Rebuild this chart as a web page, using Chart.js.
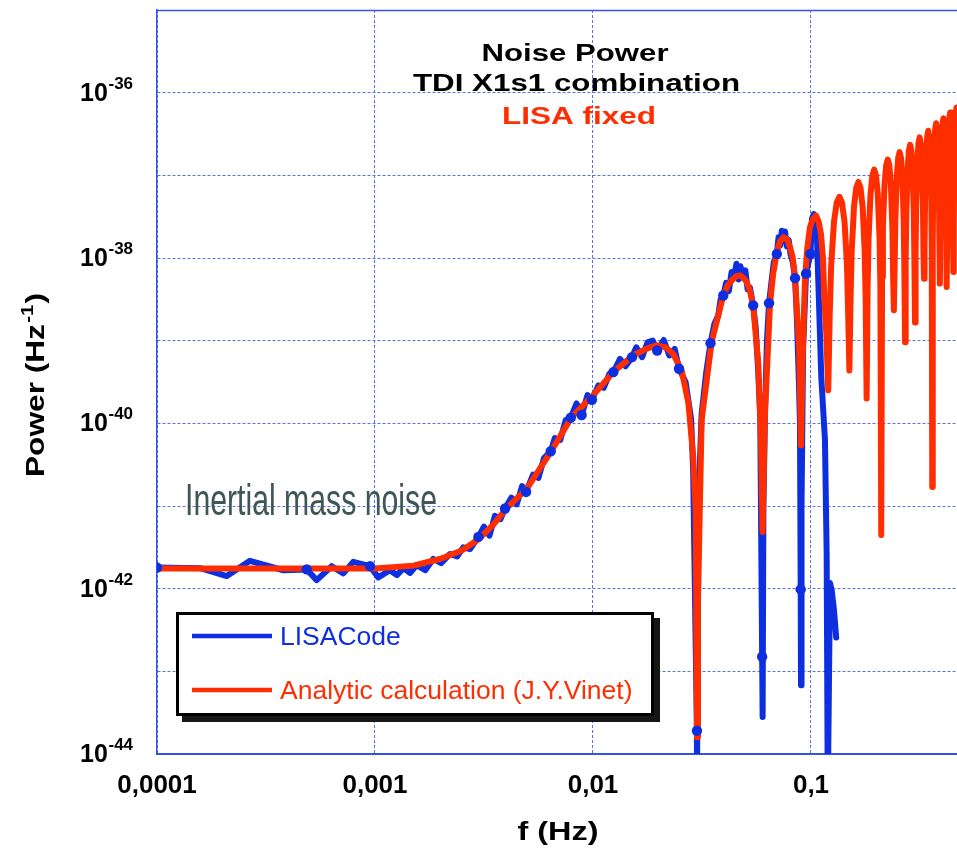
<!DOCTYPE html>
<html><head><meta charset="utf-8">
<script src="https://cdn.jsdelivr.net/npm/chart.js@4/dist/chart.umd.min.js"></script>
<style>html,body{margin:0;padding:0;background:#fff}canvas{display:block}</style>
</head><body>
<canvas id="c" width="957" height="848"></canvas>
<script>
// ---------- DATA ----------
const lisaF = [1e-4,1.58e-4,2.09e-4,2.67e-4,3.80e-4,4.86e-4,5.40e-4,6.33e-4,7.16e-4,7.95e-4,9.49e-4,
  1.035e-3,1.17e-3,1.26e-3,1.35e-3,1.45e-3,1.55e-3,1.70e-3,1.85e-3,2.01e-3,2.21e-3,2.38e-3,2.54e-3,2.73e-3,
  2.98e-3,3.16e-3,3.35e-3,3.55e-3,3.76e-3,3.95e-3,4.22e-3,4.47e-3,4.73e-3,4.93e-3,5.31e-3,5.62e-3,5.96e-3,
  6.40e-3,6.68e-3,7.08e-3,7.50e-3,7.91e-3,8.41e-3,8.87e-3,9.44e-3,9.89e-3,1.06e-2,1.12e-2,1.19e-2,1.24e-2,
  1.33e-2,1.41e-2,1.51e-2,1.58e-2,1.68e-2,1.78e-2,1.88e-2,1.97e-2,2.11e-2,2.24e-2,2.37e-2,2.48e-2,2.66e-2,
  2.82e-2,2.88e-2,2.998e-2,3.0e-2,3.05e-2,3.15e-2,3.30e-2,3.46e-2,3.60e-2,3.75e-2,3.85e-2,3.96e-2,4.08e-2,
  4.20e-2,4.32e-2,4.45e-2,4.55e-2,4.65e-2,4.75e-2,4.88e-2,5.00e-2,5.12e-2,5.25e-2,5.43e-2,5.58e-2,5.72e-2,
  5.85e-2,5.97e-2,6.00e-2,6.05e-2,6.15e-2,6.28e-2,6.42e-2,6.58e-2,6.75e-2,6.97e-2,7.10e-2,7.22e-2,7.35e-2,
  7.48e-2,7.60e-2,7.75e-2,7.90e-2,8.05e-2,8.25e-2,8.45e-2,8.62e-2,8.80e-2,8.90e-2,8.97e-2,9.00e-2,9.05e-2,
  9.20e-2,9.49e-2,9.95e-2,0.101,0.103,0.106,0.108,0.1115,0.1159,0.1180,0.1194,
  0.1222,0.1245,0.1275,0.1305];
const lisaP = [1.80e-42,1.77e-42,1.42e-42,2.17e-42,1.67e-42,1.71e-42,1.27e-42,1.87e-42,1.53e-42,2.11e-42,1.87e-42,
  1.37e-42,1.67e-42,1.46e-42,1.77e-42,1.55e-42,1.92e-42,1.67e-42,2.29e-42,2.04e-42,2.63e-42,2.45e-42,3.16e-42,3.02e-42,
  4.23e-42,5.62e-42,4.37e-42,7.59e-42,6.92e-42,9.33e-42,1.26e-41,1.05e-41,1.74e-41,1.48e-41,2.40e-41,2.19e-41,3.80e-41,
  4.59e-41,6.61e-41,6.31e-41,1.10e-40,1.17e-40,1.74e-40,1.26e-40,2.19e-40,1.93e-40,2.88e-40,2.69e-40,3.98e-40,4.17e-40,
  6.03e-40,4.90e-40,6.32e-40,8.32e-40,6.31e-40,9.55e-40,1.00e-39,7.59e-40,1.02e-39,6.61e-40,7.94e-40,4.58e-40,3.16e-40,
  1.12e-40,2.69e-41,1.91e-44,5e-45,1.2e-41,1.3e-40,3.98e-40,9.33e-40,1.58e-39,2.0e-39,3.16e-39,3.52e-39,5.01e-39,
  3.98e-39,6.76e-39,6.03e-39,8.51e-39,5.50e-39,7.94e-39,5.75e-39,7.08e-39,4.17e-39,4.37e-39,2.67e-39,1.41e-39,4.47e-40,
  1.2e-40,1.5e-43,2.8e-44,1.0e-41,1.3e-40,1.0e-39,2.84e-39,5.01e-39,8.91e-39,1.12e-38,1.78e-38,1.41e-38,2.14e-38,
  1.58e-38,2.09e-38,1.38e-38,1.66e-38,1.12e-38,8.91e-39,5.70e-39,1.78e-39,3.16e-40,1.0e-40,9.8e-43,6.8e-44,1.0e-41,
  8.0e-40,6.46e-39,1.12e-38,3.0e-38,3.4e-38,2.6e-38,5.4e-39,3.6e-40,6.3e-41,2.7e-42,3e-45,
  1.17e-42,9.5e-43,5.5e-43,2.57e-43];
const lisaDot = [1,0,0,0,0,1,0,0,0,0,1,
  0,0,0,0,0,0,0,0,0,0,0,0,0,
  1,0,0,0,0,1,0,0,0,1,0,0,0,
  1,0,0,0,1,0,1,0,1,0,0,0,1,
  0,0,1,0,0,0,0,1,0,0,0,1,0,
  0,0,1,0,0,0,0,1,0,0,0,1,0,
  0,0,0,0,0,0,0,0,0,0,1,0,0,
  0,1,0,0,0,0,1,0,0,1,0,0,0,
  0,0,0,0,0,0,1,0,0,0,1,0,0,
  0,1,1,0,0,0,0,0,0,0,0,
  0,0,0,0];

const analyticF = [1e-4,1e-3,1.5e-3,2.0e-3,2.5e-3,3.0e-3,3.5e-3,4.0e-3,4.97e-3,6.47e-3,7.98e-3,1.0e-2,1.24e-2,
  1.53e-2,1.75e-2,1.96e-2,2.15e-2,2.33e-2,2.55e-2,2.74e-2,2.88e-2,2.96e-2,3.0e-2,3.03e-2,3.15e-2,3.50e-2,3.96e-2,
  4.15e-2,4.40e-2,4.55e-2,4.72e-2,4.90e-2,5.07e-2,5.25e-2,5.43e-2,5.73e-2,5.90e-2,6.0e-2,6.15e-2,6.49e-2,6.70e-2,
  6.97e-2,7.20e-2,7.47e-2,7.75e-2,8.02e-2,8.25e-2,8.45e-2,8.82e-2,9.0e-2,9.15e-2,9.38e-2,9.60e-2,9.89e-2,0.102,
  0.1054,0.1085,0.1111,0.1135,0.1151,0.1175,
  0.12,0.121875,0.12375,0.1275,0.13125,0.135,0.13875,0.1425,0.14625,0.148125,
  0.15,0.151875,0.15375,0.1575,0.16125,0.165,0.16875,0.1725,0.17625,0.178125,
  0.18,0.181875,0.18375,0.1875,0.19125,0.195,0.19875,0.2025,0.20625,0.208125,
  0.21,0.211875,0.21375,0.2175,0.22125,0.225,0.22875,0.2325,0.23625,0.238125,
  0.24,0.241875,0.24375,0.2475,0.25125,0.255,0.25875,0.2625,0.26625,0.268125,
  0.27,0.271875,0.27375,0.2775,0.28125,0.285,0.28875,0.2925,0.29625,0.298125,
  0.30,0.301875,0.30375,0.3075,0.31125,0.315,0.31875,0.3225,0.32625,0.328125,
  0.33,0.331875,0.33375,0.3375,0.34125,0.345,0.34875,0.3525,0.35625,0.358125,
  0.36,0.361875,0.36375,0.3675,0.37125,0.375,0.37875,0.3825,0.38625,0.388125,
  0.39,0.391875,0.39375,0.3975,0.40125,0.405,0.40875,0.4125,0.41625,0.418125,
  0.42,0.421875,0.42375,0.4275,0.43125,0.435,0.43875,0.4425,0.44625,0.448125,
  0.45,0.451875,0.45375,0.4575,0.46125,0.465,0.46875,0.4725,0.47625,0.478125,0.48];
const analyticP = [1.75e-42,1.75e-42,1.9e-42,2.3e-42,2.9e-42,4.0e-42,6.0e-42,9.3e-42,1.62e-41,4.72e-41,1.19e-40,2.18e-40,4.17e-40,
  6.64e-40,7.94e-40,8.77e-40,8.32e-40,6.95e-40,4.36e-40,1.75e-40,4.1e-41,8.5e-42,1.6e-44,7.2e-43,1.09e-40,9.6e-40,3.52e-39,
  4.68e-39,5.61e-39,6.03e-39,6.17e-39,5.75e-39,5.13e-39,3.98e-39,2.67e-39,5.26e-40,6.3e-41,4.85e-42,1.32e-40,2.8e-39,6.3e-39,
  1.17e-38,1.58e-38,1.78e-38,1.70e-38,1.35e-38,1.0e-38,5.86e-39,8.3e-40,5.42e-41,5.7e-40,5.35e-39,1.26e-38,2.36e-38,2.95e-38,
  3.26e-38,2.75e-38,1.96e-38,1.0e-38,3.36e-39,1.26e-39,
  2.51e-40,2.09e-39,8.13e-39,2.75e-38,4.68e-38,5.50e-38,4.68e-38,2.75e-38,8.13e-39,2.09e-39,
  4.37e-40,3.16e-39,1.23e-38,4.17e-38,7.08e-38,8.32e-38,7.08e-38,4.17e-38,1.23e-38,3.16e-39,
  2.00e-40,4.47e-39,1.74e-38,5.89e-38,1.00e-37,1.17e-37,1.00e-37,5.89e-38,1.74e-38,4.47e-39,
  4.47e-42,5.89e-39,2.29e-38,7.76e-38,1.32e-37,1.55e-37,1.32e-37,7.76e-38,2.29e-38,5.89e-39,
  2.34e-39,7.24e-39,2.82e-38,9.55e-38,1.62e-37,1.91e-37,1.62e-37,9.55e-38,2.82e-38,7.24e-39,
  9.55e-40,8.91e-39,3.47e-38,1.17e-37,2.00e-37,2.34e-37,2.00e-37,1.17e-37,3.47e-38,8.91e-39,
  1.66e-39,1.10e-38,4.27e-38,1.45e-37,2.45e-37,2.88e-37,2.45e-37,1.45e-37,4.27e-38,1.10e-38,
  5.62e-39,1.32e-38,5.13e-38,1.74e-37,2.95e-37,3.47e-37,2.95e-37,1.74e-37,5.13e-38,1.32e-38,
  1.70e-41,1.62e-38,6.31e-38,2.14e-37,3.63e-37,4.27e-37,3.63e-37,2.14e-37,6.31e-38,1.62e-38,
  4.90e-39,1.86e-38,7.24e-38,2.45e-37,4.17e-37,4.90e-37,4.17e-37,2.45e-37,7.24e-38,1.86e-38,
  4.47e-39,2.19e-38,8.51e-38,2.88e-37,4.90e-37,5.75e-37,4.90e-37,2.88e-37,8.51e-38,2.19e-38,
  6.76e-39,2.51e-38,9.77e-38,3.31e-37,5.62e-37,6.61e-37,5.62e-37,3.31e-37,9.77e-38,2.51e-38,6.31e-39];

const xTickValues = [1e-4,1e-3,1e-2,1e-1];
const xTickLabels = ['0,0001','0,001','0,01','0,1'];
const yGridValues = [1e-44,1e-43,1e-42,1e-41,1e-40,1e-39,1e-38,1e-37,1e-36];
const yLabelValues = [1e-44,1e-42,1e-40,1e-38,1e-36];
const yLabelExponents = ['-44','-42','-40','-38','-36'];
const titleLines = ['Noise Power','TDI X1s1 combination','LISA fixed'];
const seriesNames = ['LISACode','Analytic calculation (J.Y.Vinet)'];
const annotationText = 'Inertial mass noise';
const xAxisTitle = 'f (Hz)';
const yAxisTitle = ['Power (Hz', '-1', ')'];

// ---------- STYLE ----------
const BLUE = '#0d2fe0', RED = '#ff2e00', GRID = '#5a72e8', FRAME = '#3552e2';
const FONT = "'Liberation Sans', Arial, Helvetica, sans-serif";

const lisa = lisaF.map((f, i) => ({x: f, y: lisaP[i]}));
const lisaMarks = lisa.filter((p, i) => lisaDot[i] === 1);
const analytic = analyticF.map((f, i) => ({x: f, y: analyticP[i]}));

function stretchText(ctx, text, x, y, font, color, targetW, align) {
  ctx.save();
  ctx.font = font; ctx.fillStyle = color; ctx.textBaseline = 'alphabetic'; ctx.textAlign = 'left';
  const w = ctx.measureText(text).width;
  const s = targetW / w;
  const left = align === 'center' ? x - targetW / 2 : x;
  ctx.translate(left, y); ctx.scale(s, 1);
  ctx.fillText(text, 0, 0);
  ctx.restore();
}

const decor = {
  id: 'decor',
  beforeDatasetsDraw(chart) {
    const {ctx, chartArea: a} = chart;
    ctx.save();
    ctx.strokeStyle = FRAME; ctx.lineWidth = 1.5;
    ctx.beginPath(); ctx.moveTo(a.left, a.top + 0.5); ctx.lineTo(a.right, a.top + 0.5); ctx.stroke();
    ctx.restore();
    stretchText(ctx, annotationText, 185, 515, '44px ' + FONT, '#3e5656', 252, 'left');
  },
  afterDatasetsDraw(chart) {
    const {ctx} = chart;
    const bx = 176, by = 612, bw = 478, bh = 104;
    ctx.save();
    ctx.fillStyle = '#161616';
    ctx.fillRect(bx + 6, by + 6, bw, bh);
    ctx.fillStyle = '#ffffff';
    ctx.fillRect(bx, by, bw, bh);
    ctx.strokeStyle = '#000'; ctx.lineWidth = 3;
    ctx.strokeRect(bx + 1.5, by + 1.5, bw - 3, bh - 3);
    ctx.lineCap = 'butt';
    ctx.lineWidth = 4.5; ctx.strokeStyle = BLUE;
    ctx.beginPath(); ctx.moveTo(192, 636); ctx.lineTo(272, 636); ctx.stroke();
    ctx.strokeStyle = RED;
    ctx.beginPath(); ctx.moveTo(192, 690); ctx.lineTo(272, 690); ctx.stroke();
    ctx.font = '26.5px ' + FONT; ctx.textAlign = 'left'; ctx.textBaseline = 'alphabetic';
    ctx.fillStyle = BLUE; ctx.fillText(seriesNames[0], 280, 645);
    ctx.fillStyle = RED; ctx.fillText(seriesNames[1], 280, 699);
    ctx.restore();
    stretchText(ctx, titleLines[0], 575, 61, 'bold 24px ' + FONT, '#000', 187, 'center');
    stretchText(ctx, titleLines[1], 576.5, 91, 'bold 24px ' + FONT, '#000', 327, 'center');
    stretchText(ctx, titleLines[2], 579, 124, 'bold 24px ' + FONT, RED, 154, 'center');
  },
  afterDraw(chart) {
    const {ctx, scales: {x, y}} = chart;
    ctx.save();
    ctx.fillStyle = '#000'; ctx.textBaseline = 'alphabetic';
    ctx.font = 'bold 26px ' + FONT; ctx.textAlign = 'center';
    xTickValues.forEach((v, i) => ctx.fillText(xTickLabels[i], x.getPixelForValue(v), 793));
    yLabelValues.forEach((v, i) => {
      const py = y.getPixelForValue(v);
      ctx.textAlign = 'left';
      ctx.font = 'bold 25px ' + FONT; ctx.fillText('10', 80, py + 8);
      ctx.font = 'bold 17px ' + FONT; ctx.fillText(yLabelExponents[i], 108.5, py - 4);
    });
    ctx.restore();
    stretchText(ctx, xAxisTitle, 558, 840, 'bold 25px ' + FONT, '#000', 81, 'center');
    ctx.save();
    ctx.fillStyle = '#000'; ctx.textBaseline = 'alphabetic'; ctx.textAlign = 'left';
    ctx.font = 'bold 25px ' + FONT; const w1 = ctx.measureText(yAxisTitle[0]).width;
    const w3 = ctx.measureText(yAxisTitle[2]).width;
    ctx.font = 'bold 16px ' + FONT; const w2 = ctx.measureText(yAxisTitle[1]).width + 2;
    const W = w1 + w2 + w3; const s = 184 / W;
    ctx.translate(44, 385); ctx.rotate(-Math.PI / 2); ctx.scale(s, 1);
    let px = -W / 2;
    ctx.font = 'bold 25px ' + FONT; ctx.fillText(yAxisTitle[0], px, 0); px += w1;
    ctx.font = 'bold 16px ' + FONT; ctx.fillText(yAxisTitle[1], px + 1, -11); px += w2;
    ctx.font = 'bold 25px ' + FONT; ctx.fillText(yAxisTitle[2], px, 0);
    ctx.restore();
  }
};

new Chart(document.getElementById('c'), {
  type: 'line',
  data: {
    datasets: [
      {label: seriesNames[0] + ' points', data: lisaMarks, showLine: false, pointRadius: 5.2,
       pointBackgroundColor: BLUE, pointBorderWidth: 0, order: 0},
      {label: seriesNames[1], data: analytic, borderColor: RED, borderWidth: 6, pointRadius: 0,
       tension: 0, fill: false, order: 1},
      {label: seriesNames[0], data: lisa, borderColor: BLUE, borderWidth: 6, pointRadius: 0,
       tension: 0, fill: false, order: 2}
    ]
  },
  plugins: [decor],
  options: {
    animation: false, responsive: false, devicePixelRatio: 1,
    layout: {autoPadding: false, padding: {left: 157, right: 0, top: 10, bottom: 94}},
    plugins: {legend: {display: false}, tooltip: {enabled: false}, title: {display: false}},
    elements: {line: {borderJoinStyle: 'round', borderCapStyle: 'round'}},
    scales: {
      x: {
        type: 'logarithmic', min: 1e-4, max: 0.4675,
        afterBuildTicks: s => { s.ticks = xTickValues.map(v => ({value: v})); },
        ticks: {display: false},
        grid: {color: GRID, lineWidth: 1, drawTicks: false},
        border: {display: true, color: FRAME, width: 2, dash: [3, 2]}
      },
      y: {
        type: 'logarithmic', min: 1e-44, max: 1e-35,
        afterBuildTicks: s => { s.ticks = yGridValues.map(v => ({value: v})); },
        ticks: {display: false},
        grid: {color: GRID, lineWidth: 1, drawTicks: false},
        border: {display: true, color: FRAME, width: 1.5, dash: [3, 2]}
      }
    }
  }
});
</script>
</body></html>
